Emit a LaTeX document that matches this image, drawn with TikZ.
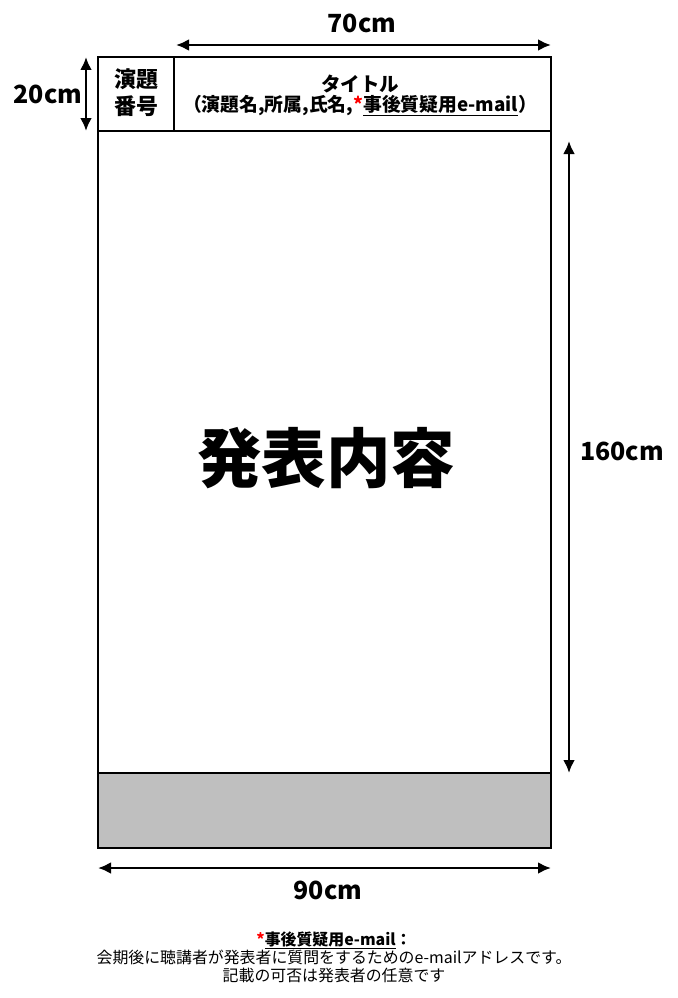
\documentclass[tikz,border=0pt]{standalone}
\usepackage{fontspec}
\setmainfont{Noto Sans CJK JP}
\usepackage{xcolor}
\usetikzlibrary{arrows.meta}
\definecolor{bandgray}{HTML}{BFBFBF}
\definecolor{starred}{HTML}{FF0000}

\begin{document}
\begin{tikzpicture}[x=1pt,y=-1pt,
	frame/.style={line width=2.6pt,line join=miter},
	dimarrow/.style={line width=2.6pt,{Latex[length=13pt,width=12pt]}-{Latex[length=13pt,width=12pt]}},
	dimlabel/.style={inner sep=0pt,font=\bfseries\fontsize{25}{28}\selectfont},
	headtext/.style={inner sep=0pt,font=\bfseries\fontsize{18.8}{22}\selectfont}]
	\useasboundingbox (0,0) rectangle (677,998);

	% poster corners
	\coordinate (tl) at (98,57);
	\coordinate (tr) at (551,57);
	\coordinate (hl) at (98,131);
	\coordinate (hr) at (551,131);
	\coordinate (gl) at (98,773);
	\coordinate (gr) at (551,773);
	\coordinate (bl) at (98,848);
	\coordinate (br) at (551,848);
	\coordinate (dvt) at (174,57);
	\coordinate (dvb) at (174,131);

	\fill[bandgray] (gl) rectangle (br);
	\draw[frame] (tl) rectangle (br);
	\draw[frame] (hl) -- (hr);
	\draw[frame] (gl) -- (gr);
	\draw[frame] (dvt) -- (dvb);

	% dimension arrows
	\coordinate (w70l) at (176,45);
	\coordinate (w70r) at (551,45);
	\coordinate (h20t) at (86,57);
	\coordinate (h20b) at (86,131);
	\coordinate (h160t) at (569,141);
	\coordinate (h160b) at (569,773);
	\coordinate (w90l) at (98,868);
	\coordinate (w90r) at (551,868);
	\draw[dimarrow] (w70l) -- (w70r);
	\draw[dimarrow] (h20t) -- (h20b);
	\draw[dimarrow] (h160t) -- (h160b);
	\draw[dimarrow] (w90l) -- (w90r);

	\node[dimlabel] (w70) at (362,23) {70cm};
	\node[dimlabel] (h20) at (48,94) {20cm};
	\node[dimlabel] (h160) at (622,451) {160cm};
	\node[dimlabel] (w90) at (328,890) {90cm};

	% header
	\node[inner sep=0pt,font=\bfseries\fontsize{22}{27}\selectfont,align=center] (num) at (136,93) {演題\\番号};
	\node[headtext,font=\bfseries\fontsize{19.5}{22}\selectfont] (title) at (360,84) {タイトル};
	\node[headtext] (info) at (360,106) {（演題名,所属,氏名,\textcolor{starred}{*}\underline{事後質疑用e-mail}）};

	% body
	\node[inner sep=0pt,font=\bfseries\fontsize{64.5}{70}\selectfont] (body) at (326,458) {発表内容};

	% note
	\node[inner sep=0pt,font=\fontsize{15.9}{18}\selectfont,align=center] (note) at (334,957)
		{\textbf{\textcolor{starred}{*}\underline{事後質疑用e-mail}：}\\
		会期後に聴講者が発表者に質問をするためのe-mailアドレスです。\\
		記載の可否は発表者の任意です};
\end{tikzpicture}
\end{document}
